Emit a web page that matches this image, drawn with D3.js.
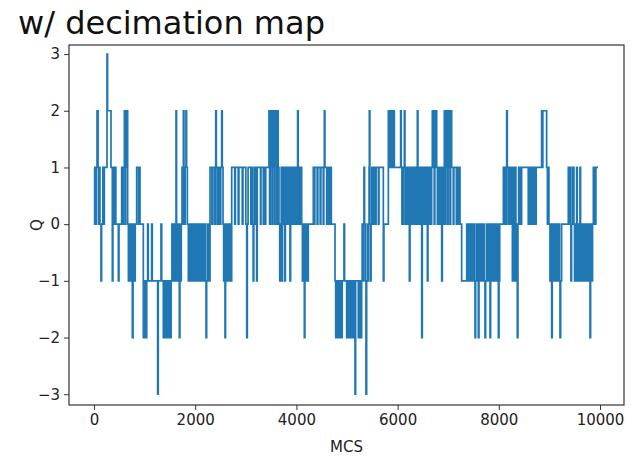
<!DOCTYPE html>
<html>
<head>
<meta charset="utf-8">
<script src="https://cdn.jsdelivr.net/npm/d3@7"></script>
<style>
  html, body { margin: 0; padding: 0; background: #fff; }
  svg { display: block; font-family: "DejaVu Sans", sans-serif; }
</style>
</head>
<body>
<svg id="chart" width="635" height="469"></svg>
<script>
// Topological charge Q per Monte Carlo sweep: [MCS where the value starts, Q]
const qSteps = [
  [0,1],[12,0],[24,1],[36,0],[48,1],[60,2],[80,1],[92,0],[104,1],[118,0],[138,-1],[150,0],[175,1],[188,0],[204,1],
  [257,3],[268,2],[336,1],[362,-1],[374,0],[388,1],[400,0],[420,1],[432,0],[481,-1],[494,0],[547,1],[562,0],[576,1],
  [600,2],[612,0],[626,2],[640,1],[652,2],[665,0],[680,-1],[692,0],[704,-1],[716,0],[730,-1],[744,0],[758,-2],[772,-1],
  [786,0],[800,-1],[815,0],[843,1],[880,0],[896,1],[909,0],[975,-2],[988,-1],[1000,-2],[1014,-1],[1028,-2],[1042,-1],
  [1060,0],[1073,-1],[1139,0],[1152,-1],[1258,-3],[1270,-1],[1324,0],[1338,-1],[1370,-2],[1384,-1],[1398,-2],[1412,-1],
  [1426,-2],[1440,-1],[1454,-2],[1468,-1],[1482,-2],[1496,-1],[1510,-2],[1524,-1],[1540,0],
  [1555,-1],[1570,0],[1585,-1],[1600,0],[1612,-1],[1621,2],[1632,0],[1645,-1],[1658,0],[1670,-1],[1686,-2],[1698,0],
  [1712,-1],[1725,0],[1740,1],[1752,0],[1766,2],[1778,1],[1790,0],[1802,1],[1818,2],[1830,1],[1845,0],
  [1864,-1],[1878,0],[1892,-1],[1906,0],[1920,-1],[1934,0],[1948,-1],[1962,0],[1976,-1],[1990,0],[2004,-1],[2018,0],
  [2032,-1],[2046,0],[2060,-1],[2074,0],[2088,-1],[2102,0],[2116,-1],[2130,0],[2144,-1],[2158,0],[2172,-1],[2186,0],
  [2200,-1],[2214,-2],[2226,-1],[2240,0],[2254,-1],[2268,0],[2280,-1],
  [2293,1],[2330,0],[2342,1],[2380,0],[2395,1],[2405,2],[2418,1],[2432,0],[2446,1],[2460,0],[2475,1],[2490,0],[2505,1],
  [2523,2],[2535,1],[2550,0],[2562,-1],[2576,0],[2589,-2],[2600,-1],[2614,0],[2628,-1],[2642,0],[2656,-1],[2670,0],
  [2684,-1],[2698,0],[2710,-1],[2721,1],[2780,0],[2794,1],[2850,0],[2864,1],[2930,0],[2944,1],
  [3000,0],[3018,-2],[3030,0],[3045,1],[3100,0],[3114,1],[3135,0],[3145,-1],[3158,0],[3172,1],
  [3200,0],[3214,-1],[3226,1],[3290,0],[3300,1],[3346,0],[3360,1],[3380,0],[3394,1],
  [3458,2],[3470,0],[3482,2],[3494,1],[3506,2],[3518,0],[3530,2],[3542,1],[3554,2],[3566,0],[3578,2],[3590,1],
  [3602,2],[3614,0],[3626,2],[3640,1],[3655,0],[3670,-1],[3682,0],[3700,1],[3712,-1],[3724,0],[3740,1],[3755,0],
  [3770,-1],[3782,1],[3800,0],[3815,1],[3830,0],[3845,1],[3873,-1],[3885,0],[3906,1],[3925,0],[3938,1],
  [3968,0],[3982,1],[4010,0],[4024,2],[4036,1],[4050,0],[4062,1],[4085,0],[4096,1],[4104,0],[4118,-1],
  [4132,0],[4146,-1],[4156,-2],[4168,-1],[4180,0],[4194,-1],[4208,0],[4222,-1],[4235,0],
  [4334,1],[4350,0],[4364,1],[4410,0],[4424,1],[4470,0],[4484,1],[4530,0],[4542,1],[4552,2],
  [4564,1],[4598,0],[4612,1],[4630,0],[4645,1],[4668,0],[4680,1],[4690,0],
  [4763,-1],[4776,-2],[4790,-1],[4802,-2],[4816,-1],[4830,-2],[4844,-1],[4861,-2],[4875,-1],[4890,-2],[4905,-1],
  [4940,0],[4952,-1],[4993,-2],[5005,-1],[5018,-2],[5030,-1],[5043,-2],[5056,-1],[5070,-2],[5083,-1],[5096,-2],
  [5110,-1],[5125,-2],[5140,-1],[5158,-3],[5170,-1],[5223,-2],[5236,-1],[5250,-2],[5262,-1],[5276,-2],[5289,-1],
  [5300,0],[5312,-1],[5324,0],[5335,1],[5347,0],[5360,-1],[5375,-3],[5388,-1],[5400,0],[5412,-1],[5424,0],[5436,1],
  [5441,2],[5452,0],[5464,-1],[5476,0],[5490,1],[5502,0],[5514,1],[5530,0],[5545,1],[5560,0],[5575,1],[5620,0],
  [5632,1],[5718,-1],[5730,0],[5817,2],[5830,1],[5842,2],[5855,1],[5868,2],[5880,1],[5893,2],[5906,1],[5920,2],
  [5935,1],[6060,2],[6072,1],[6085,0],[6098,1],[6110,0],[6122,1],[6133,2],[6145,1],[6158,0],[6170,1],[6185,0],
  [6198,1],[6212,0],[6232,-1],[6245,1],[6258,0],[6270,1],[6284,0],[6298,1],[6312,0],[6326,1],[6340,0],[6354,1],
  [6368,0],[6390,2],[6402,1],[6416,0],[6430,1],[6444,0],[6460,1],[6476,-2],[6488,0],[6509,1],[6525,0],[6540,1],
  [6555,0],[6570,1],[6588,-1],[6600,0],[6612,1],[6626,0],[6640,1],[6655,0],[6673,1],[6686,2],[6700,1],[6712,2],
  [6724,0],[6736,2],[6748,1],[6760,2],[6772,1],[6786,0],[6800,1],[6815,0],[6830,1],[6845,0],[6860,1],[6871,-1],
  [6884,0],[6896,1],[6910,0],[6923,2],[6936,0],[6948,2],[6960,1],[6972,2],[6985,0],[6998,2],[7010,1],[7022,2],
  [7035,0],[7048,2],[7068,1],[7100,0],[7112,1],[7160,0],[7172,1],[7200,0],[7212,1],[7233,0],[7266,-1],
  [7365,0],[7378,-1],[7392,0],[7406,-1],[7420,0],[7434,-1],[7460,0],[7476,-1],[7504,0],[7518,-1],
  [7530,-2],[7542,-1],[7556,0],[7570,-1],[7585,0],[7595,-2],[7608,-1],[7622,0],[7636,-1],[7664,0],[7678,-1],
  [7694,0],[7710,-1],[7727,-2],[7740,-1],[7754,0],[7768,-1],[7782,0],[7796,-1],[7810,0],[7826,-2],[7838,-1],[7852,0],
  [7880,-1],[7894,0],[7922,-1],[7936,0],[7964,-1],[7978,0],[7991,-2],[8004,-1],[8018,0],
  [8090,1],[8104,0],[8118,1],[8132,0],[8145,1],[8155,2],[8168,1],[8182,0],[8196,1],[8210,0],[8220,1],[8240,0],
  [8254,1],[8268,-1],[8280,0],[8290,1],[8302,-1],[8314,0],[8326,1],[8338,-1],[8350,0],[8365,-2],[8378,0],[8392,1],
  [8405,0],[8420,1],[8435,0],[8451,1],[8582,0],[8594,1],[8606,0],[8618,1],[8630,0],[8642,1],[8654,0],[8666,1],
  [8678,0],[8690,1],[8702,0],[8714,1],[8726,0],[8738,1],[8846,2],[8858,1],[8870,2],[8945,1],[8960,0],[8975,1],
  [8990,0],[9011,-1],[9024,0],[9036,-1],[9044,-2],[9056,-1],[9068,0],[9080,-1],[9092,0],[9104,-1],[9116,0],[9128,-1],
  [9140,0],[9152,-1],[9164,0],[9176,-1],[9188,0],[9200,-1],[9209,-2],[9222,-1],[9241,0],[9373,1],[9386,0],[9400,1],
  [9412,0],[9425,-1],[9438,0],[9450,1],[9462,0],[9472,1],[9484,0],[9496,-1],[9510,0],[9524,-1],[9538,1],[9550,0],
  [9562,-1],[9575,0],[9590,-1],[9604,1],[9616,0],[9628,-1],[9640,0],[9654,-1],[9668,0],[9682,-1],[9696,0],[9710,-1],
  [9724,0],[9738,-1],[9752,0],[9766,-1],[9780,0],[9802,-2],[9814,-1],[9828,0],[9840,-1],[9852,0],[9868,1],[9880,0],
  [9892,1],[9905,0],[9918,1],[9960,1]
];

const xTicks = [0, 2000, 4000, 6000, 8000, 10000];
const yTicks = [-3, -2, -1, 0, 1, 2, 3];
const titleText = "w/ decimation map";
const xLabel = "MCS";
const yLabel = "Q";

const svg = d3.select("#chart");
const plot = { left: 69, right: 624, top: 45, bottom: 405 };

const x = d3.scaleLinear().domain([-494, 10474]).range([plot.left, plot.right]);
const y = d3.scaleLinear().domain([-3.19, 3.16]).range([plot.bottom, plot.top]);

// title
svg.append("text")
  .attr("x", 18).attr("y", 34)
  .attr("font-size", 32)
  .attr("fill", "#111")
  .text(titleText);

// the step trace
const line = d3.line()
  .x(d => x(d[0]))
  .y(d => y(d[1]))
  .curve(d3.curveStepAfter);

svg.append("defs").append("clipPath").attr("id", "plotclip")
  .append("rect")
  .attr("x", plot.left).attr("y", plot.top)
  .attr("width", plot.right - plot.left).attr("height", plot.bottom - plot.top);

svg.append("path")
  .datum(qSteps)
  .attr("clip-path", "url(#plotclip)")
  .attr("fill", "none")
  .attr("stroke", "#1f77b4")
  .attr("stroke-width", 1.7)
  .attr("stroke-linejoin", "miter")
  .attr("d", line);

// axes
const fmt = d3.format("d");
const xAxis = d3.axisBottom(x).tickValues(xTicks).tickSize(5).tickPadding(4)
  .tickFormat(d => fmt(d));
const yAxis = d3.axisLeft(y).tickValues(yTicks).tickSize(5).tickPadding(4)
  .tickFormat(d => fmt(d));

const gx = svg.append("g").attr("transform", `translate(0,${plot.bottom})`).call(xAxis);
const gy = svg.append("g").attr("transform", `translate(${plot.left},0)`).call(yAxis);
[gx, gy].forEach(g => {
  g.select(".domain").remove();
  g.selectAll(".tick line").attr("stroke", "#333").attr("stroke-width", 1);
  g.selectAll(".tick text").attr("font-size", 15).attr("fill", "#222")
    .attr("font-family", "DejaVu Sans, sans-serif");
});

// axes frame
svg.append("rect")
  .attr("x", plot.left).attr("y", plot.top)
  .attr("width", plot.right - plot.left).attr("height", plot.bottom - plot.top)
  .attr("fill", "none").attr("stroke", "#333").attr("stroke-width", 1.2);

// axis labels
svg.append("text")
  .attr("x", (plot.left + plot.right) / 2).attr("y", 452)
  .attr("text-anchor", "middle").attr("font-size", 15).attr("fill", "#222")
  .text(xLabel);

svg.append("text")
  .attr("transform", `translate(42,${(plot.top + plot.bottom) / 2}) rotate(-90)`)
  .attr("text-anchor", "middle").attr("font-size", 15).attr("fill", "#222")
  .text(yLabel);
</script>
</body>
</html>
